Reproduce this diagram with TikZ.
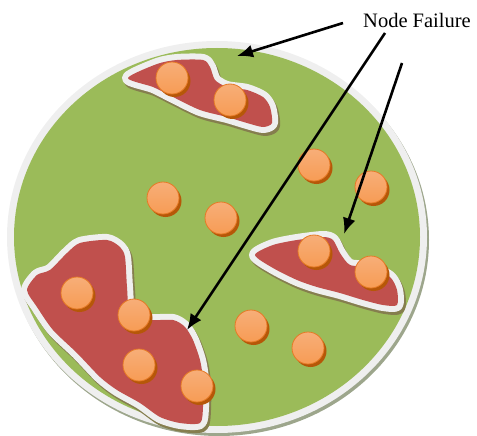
\documentclass[tikz,border=0pt]{standalone}
\usepackage{fontspec}
\setmainfont{Liberation Serif}
\usetikzlibrary{arrows.meta,shadows}
\definecolor{greenc}{HTML}{9BBB59}
\definecolor{redc}{HTML}{C0504D}
\definecolor{rimc}{HTML}{EFEFEF}
\definecolor{ellshadow}{HTML}{9DA68C}
\definecolor{blobshadow}{HTML}{857E4E}
\definecolor{ballhi}{HTML}{F7AE78}
\definecolor{ballmid}{HTML}{F68F3C}
\definecolor{ballbot}{HTML}{F79C55}
\definecolor{ballshadow}{HTML}{B65708}
\definecolor{ballrim}{HTML}{E67A26}
\newcommand\blobdraw[1]{%
  \filldraw[blobshadow, line width=12, line join=round, shift={(2,3)}] plot[smooth cycle,tension=.45] coordinates {#1};
  \filldraw[fill=rimc, draw=rimc, line width=12, line join=round] plot[smooth cycle,tension=.45] coordinates {#1};
  \fill[redc] plot[smooth cycle,tension=.45] coordinates {#1};
}
\tikzset{
  ball/.style={circle, minimum size=32pt, inner sep=0pt, draw=ballrim, line width=0.8pt,
    top color=ballhi, middle color=ballmid, bottom color=ballbot,
    drop shadow={shadow xshift=2.5pt, shadow yshift=-3pt, fill=ballshadow, opacity=1}},
  pointer/.style={line width=2.6pt, -{Latex[length=16pt,width=13pt]}},
  label/.style={font=\fontsize{20.5}{24}\selectfont, inner sep=0pt, anchor=base west}
}
\begin{document}
\begin{tikzpicture}[x=1pt,y=-1pt]
\useasboundingbox (0,0) rectangle (477,436);
% field
\fill[ellshadow] (219,240) ellipse [x radius=210, y radius=196];
\fill[rimc] (217,237) ellipse [x radius=210, y radius=196];
\fill[greenc] (217,237) ellipse [x radius=203, y radius=189];
% failed regions
\blobdraw{(128,78) (157,64) (177,60) (203,60) (210,67) (215,80) (227,87) (247,90) (263,97) (270,107) (272,123) (263,127) (247,123) (227,117) (200,110) (173,97) (153,87)}
\blobdraw{(27,290) (37,275) (50,270) (67,253) (80,243) (107,240) (120,247) (125,257) (127,287) (130,313) (147,320) (173,320) (185,327) (193,340) (200,360) (203,380) (203,407) (200,423) (180,423) (160,417) (140,403) (117,390) (100,377) (77,353) (53,330) (37,307)}
\blobdraw{(255,255) (273,245) (297,240) (323,237) (333,240) (340,253) (350,265) (370,267) (390,277) (397,290) (397,305) (383,305) (363,300) (340,293) (317,287) (297,280) (273,268)}
% nodes
\node[ball] (b1) at (172,78) {};
\node[ball] (b2) at (230,100) {};
\node[ball] (b3) at (314,165) {};
\node[ball] (b4) at (371,187) {};
\node[ball] (b5) at (163,198) {};
\node[ball] (b6) at (221,218) {};
\node[ball] (b7) at (314,251) {};
\node[ball] (b8) at (371,272) {};
\node[ball] (b9) at (77,293) {};
\node[ball] (b10) at (134,315) {};
\node[ball] (b11) at (251,326) {};
\node[ball] (b12) at (308,348) {};
\node[ball] (b13) at (139,365) {};
\node[ball] (b14) at (197,386) {};
% label and pointers
\node[label] (nf) at (363,28) {Node Failure};
\coordinate (s1) at (343,23);
\coordinate (s2) at (385,33);
\coordinate (s3) at (402,63);
\coordinate (t1) at (237,56);
\coordinate (t2) at (187,330);
\coordinate (t3) at (344,234);
\draw[pointer] (s1) -- (t1);
\draw[pointer] (s2) -- (t2);
\draw[pointer] (s3) -- (t3);
\end{tikzpicture}
\end{document}
